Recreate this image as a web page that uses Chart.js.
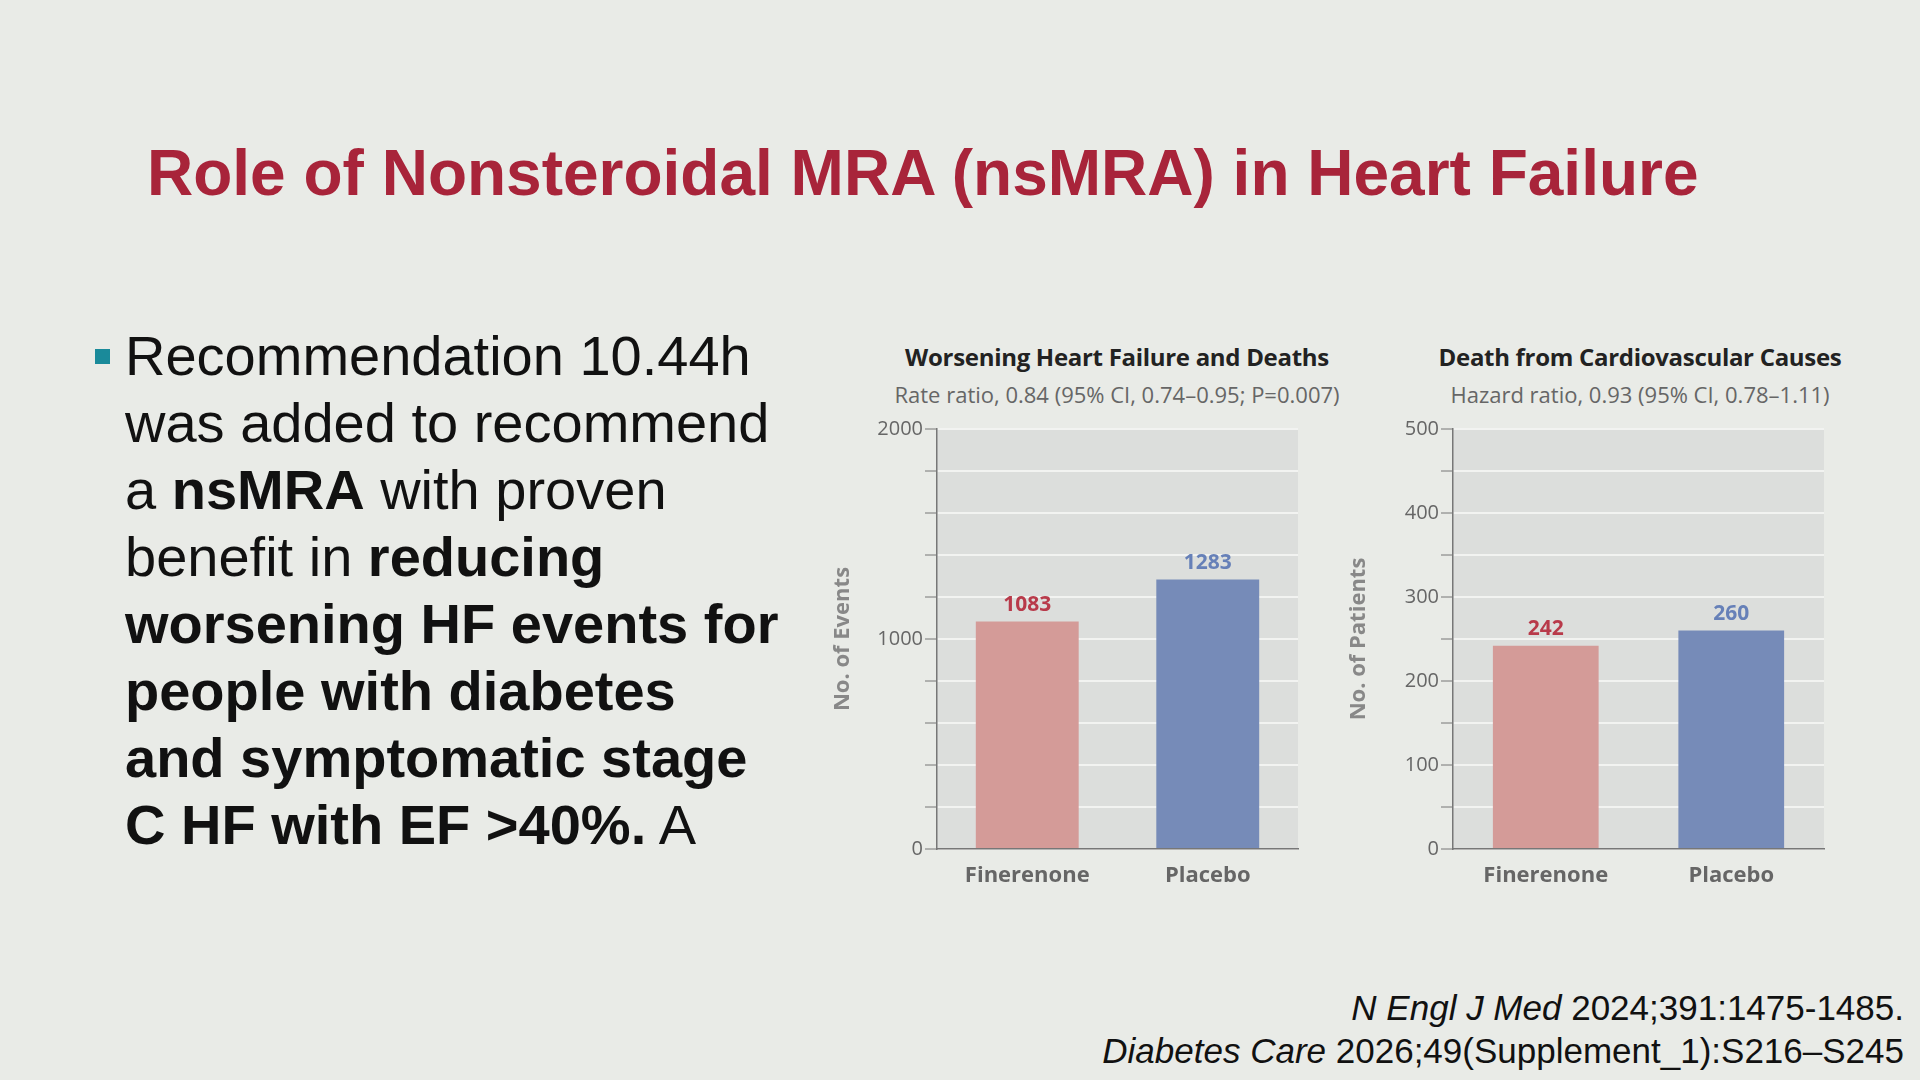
<!DOCTYPE html>
<html>
<head>
<meta charset="utf-8">
<script src="https://cdn.jsdelivr.net/npm/chart.js@4"></script>
<style>
  body { margin: 0; width: 1920px; height: 1080px; background: #e9ebe7; position: relative; overflow: hidden; font-family: "Liberation Sans", Arial, sans-serif; }
  #title { position: absolute; left: 147px; top: 136px; font-size: 64px; font-weight: bold; color: #a8243a; white-space: nowrap; }
  #bullet { position: absolute; left: 125px; top: 322px; font-size: 56px; line-height: 67px; color: #111; }
  #sq { position: absolute; left: 95px; top: 349px; width: 15px; height: 15px; background: #1a8a9a; }
  .ct { position: absolute; text-align: center; font-family: "Open Sans", sans-serif; white-space: nowrap; }
  .ct .t { font-size: 24px; font-weight: bold; color: #222; letter-spacing: -0.3px; }
  .ct .s { font-size: 22px; color: #666; margin-top: 6px; letter-spacing: 0px; }
  #cite { position: absolute; right: 16px; top: 986px; font-size: 35px; line-height: 43px; text-align: right; color: #111; }
  canvas { position: absolute; }
</style>
</head>
<body>
<div id="title">Role of Nonsteroidal MRA (nsMRA) in Heart Failure</div>
<div id="sq"></div>
<div id="bullet">Recommendation 10.44h<br>was added to recommend<br>a <b>nsMRA</b> with proven<br>benefit in <b>reducing<br>worsening HF events for<br>people with diabetes<br>and symptomatic stage<br>C HF with EF &gt;40%.</b> A</div>

<div class="ct" style="left:837px;width:560px;top:340px"><div class="t">Worsening Heart Failure and Deaths</div><div class="s">Rate ratio, 0.84 (95% CI, 0.74–0.95; P=0.007)</div></div>
<div class="ct" style="left:1360px;width:560px;top:340px"><div class="t">Death from Cardiovascular Causes</div><div class="s">Hazard ratio, 0.93 (95% CI, 0.78–1.11)</div></div>

<canvas id="c1" style="left:830px;top:415px" width="480" height="484"></canvas>
<canvas id="c2" style="left:1346px;top:415px" width="490" height="484"></canvas>

<div id="cite"><i>N Engl J Med</i> 2024;391:1475-1485.<br><i>Diabetes Care</i> 2026;49(Supplement_1):S216–S245</div>

<script>
const groups = ["Finerenone", "Placebo"];
const eventsValues = [1083, 1283];
const patientsValues = [242, 260];
const barColors = ["#d49b98", "#768bb8"];
const labelColors = ["#b83a4a", "#6680b8"];

const plotBg = {
    id: "plotBg",
    beforeDraw(chart) {
        const a = chart.chartArea, ctx = chart.ctx;
        ctx.save();
        ctx.fillStyle = "#dcdedc";
        ctx.fillRect(a.left, a.top, a.right - a.left, a.bottom - a.top);
        ctx.restore();
    }
};

const barLabels = {
    id: "barLabels",
    afterDatasetsDraw(chart) {
        const ctx = chart.ctx;
        const meta = chart.getDatasetMeta(0);
        ctx.save();
        ctx.font = "bold 21px 'Open Sans', sans-serif";
        ctx.textAlign = "center";
        ctx.textBaseline = "bottom";
        meta.data.forEach((bar, i) => {
            ctx.fillStyle = labelColors[i];
            ctx.fillText(chart.data.datasets[0].data[i], bar.x, bar.y - 6);
        });
        ctx.restore();
    }
};

function drawChart(id, values, max, step, labelEvery, yTitle, yWidth) {
    new Chart(document.getElementById(id), {
        type: "bar",
        data: {
            labels: groups,
            datasets: [{ data: values, backgroundColor: barColors, barPercentage: 0.57, categoryPercentage: 1 }]
        },
        options: {
            responsive: false,
            animation: false,
            layout: { padding: { top: 14, right: 12, left: 0, bottom: 0 } },
            plugins: { legend: { display: false }, tooltip: { enabled: false } },
            scales: {
                x: {
                    grid: { display: false },
                    border: { color: "#777", width: 1.5 },
                    ticks: { color: "#666", font: { family: "Open Sans", size: 22, weight: "bold" }, padding: 6 },
                    afterFit: s => { s.height = 50; }
                },
                y: {
                    min: 0, max,
                    ticks: {
                        stepSize: step,
                        autoSkip: false,
                        color: "#666",
                        font: { family: "Open Sans", size: 20 },
                        padding: 2,
                        callback: v => (v % labelEvery === 0 ? v : "")
                    },
                    grid: { color: "#f2f3f1", lineWidth: 2, tickColor: "#777", tickLength: 12, tickWidth: 1 },
                    border: { color: "#777", width: 1.5 },
                    title: { display: true, text: yTitle, color: "#888", font: { family: "Open Sans", size: 22, weight: "bold" }, padding: 0 },
                    afterFit: s => { s.width = yWidth; }
                }
            }
        },
        plugins: [plotBg, barLabels]
    });
}

drawChart("c1", eventsValues, 2000, 200, 1000, "No. of Events", 107);
drawChart("c2", patientsValues, 500, 50, 100, "No. of Patients", 107);
</script>
</body>
</html>
